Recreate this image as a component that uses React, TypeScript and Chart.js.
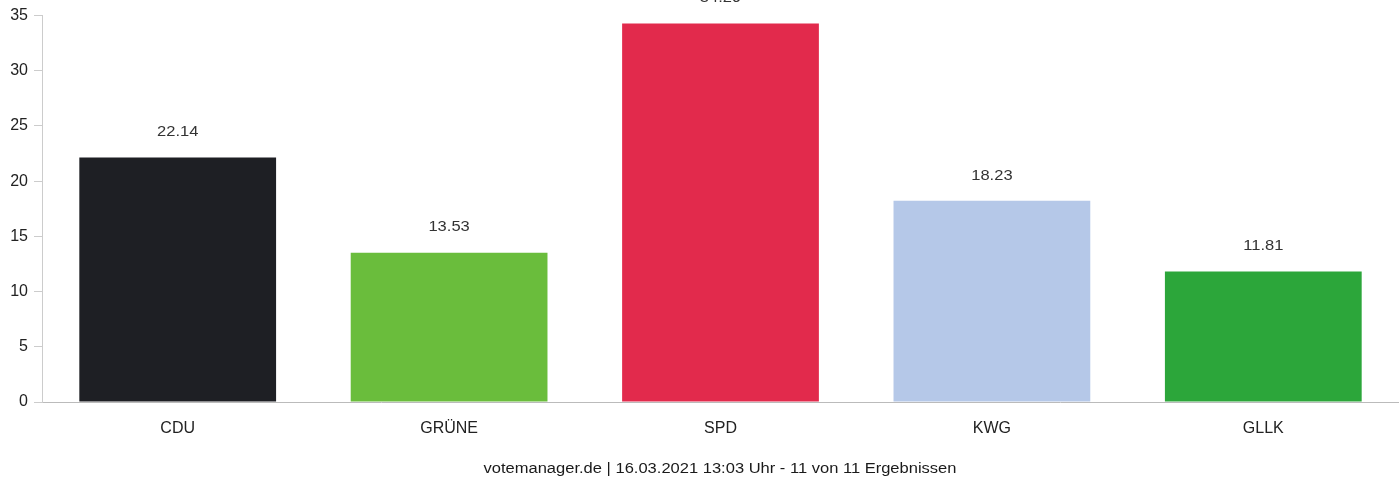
import React, { useEffect, useRef } from "react";
import { Chart, registerables } from "chart.js";

Chart.register(...registerables);

const categories = ["CDU", "GRÜNE", "SPD", "KWG", "GLLK"];
const values = [22.14, 13.53, 34.29, 18.23, 11.81];
const barColors = ["#1e1f24", "#6abd3c", "#e22a4c", "#b5c8e8", "#2ca63a"];
const yTicks = [0, 5, 10, 15, 20, 25, 30, 35];
const footerText = "votemanager.de | 16.03.2021 13:03 Uhr - 11 von 11 Ergebnissen";

const FONT = "'Liberation Sans', Arial, sans-serif";
const STRETCH = 1.18;

function stretchedText(ctx: any, text: string, x: number, y: number) {
  ctx.save();
  ctx.translate(x, y);
  ctx.scale(STRETCH, 1);
  ctx.fillText(text, 0, 0);
  ctx.restore();
}

const valueLabelPlugin = {
  id: "valueLabels",
  afterDatasetsDraw(chart: any) {
    const { ctx } = chart;
    const meta = chart.getDatasetMeta(0);
    ctx.save();
    ctx.font = `14px ${FONT}`;
    ctx.fillStyle = "#333";
    ctx.textAlign = "center";
    ctx.textBaseline = "middle";
    meta.data.forEach((bar: any, i: number) => {
      stretchedText(ctx, values[i].toFixed(2), bar.x, bar.y - 25);
    });
    ctx.restore();
  },
};

const footerPlugin = {
  id: "footer",
  afterDraw(chart: any) {
    const { ctx, chartArea } = chart;
    ctx.save();
    ctx.font = `14px ${FONT}`;
    ctx.fillStyle = "#1a1a1a";
    ctx.textAlign = "center";
    ctx.textBaseline = "middle";
    stretchedText(ctx, footerText, 720, chartArea.bottom + 67);
    ctx.restore();
  },
};

export default function App() {
  const ref = useRef<HTMLCanvasElement | null>(null);
  useEffect(() => {
    document.body.style.margin = "0";
    const chart = new Chart(ref.current as HTMLCanvasElement, {
      type: "bar",
      data: {
        labels: categories,
        datasets: [
          {
            data: values,
            backgroundColor: barColors,
            borderWidth: 0,
            categoryPercentage: 1,
            barPercentage: 0.725,
          },
        ],
      },
      options: {
        animation: false,
        responsive: false,
        layout: { padding: { top: 15, bottom: 41, left: 0, right: 0 } },
        plugins: {
          legend: { display: false },
          tooltip: { enabled: false },
          title: { display: false },
        },
        scales: {
          x: {
            grid: { display: false, drawTicks: false },
            border: { display: true, color: "#bbb", width: 1 },
            ticks: { padding: 17, color: "#222", font: { size: 16, family: FONT } },
            afterFit(scale: any) {
              scale.height = 40;
            },
          },
          y: {
            min: 0,
            max: 35,
            afterBuildTicks(scale: any) {
              scale.ticks = yTicks.map((v) => ({ value: v }));
            },
            grid: { drawOnChartArea: false, drawTicks: true, tickLength: 8, color: "#ccc" },
            border: { display: true, color: "#ccc", width: 1 },
            ticks: { padding: 6, color: "#222", font: { size: 16, family: FONT } },
            afterFit(scale: any) {
              scale.width = 42;
            },
          },
        },
      },
      plugins: [valueLabelPlugin, footerPlugin],
    });
    return () => chart.destroy();
  }, []);
  return (
    <div style={{ width: 1399, height: 483 }}>
      <canvas ref={ref} width={1399} height={483} style={{ display: "block" }} />
    </div>
  );
}
